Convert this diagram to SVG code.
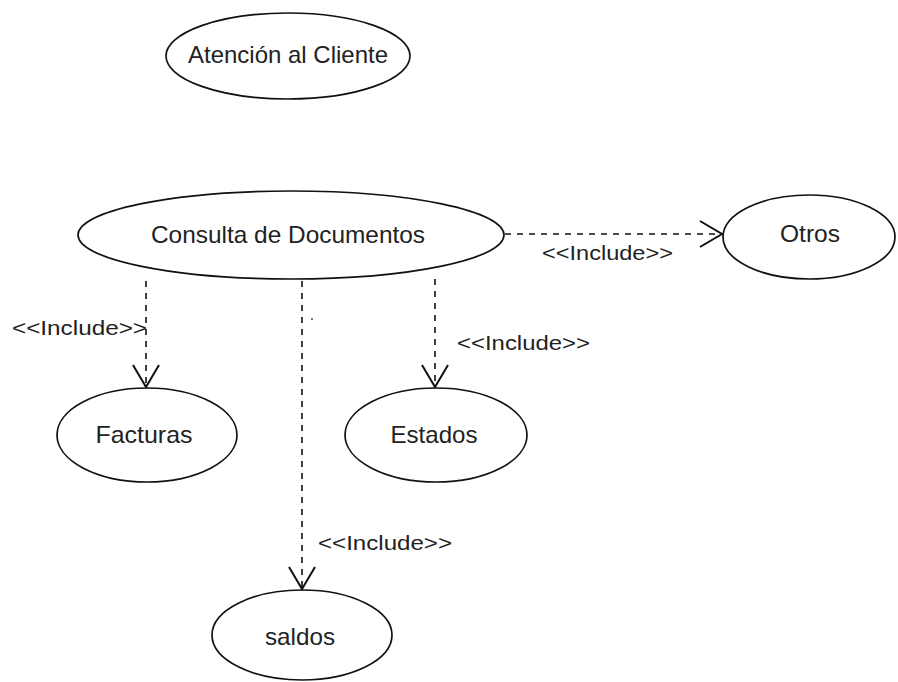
<svg xmlns="http://www.w3.org/2000/svg" width="898" height="682" viewBox="0 0 898 682">
<style>
.uc{fill:#fff;stroke:#111;stroke-width:1.7}
.t{font-family:"Liberation Sans",Arial,sans-serif;font-size:24px;fill:#222;text-anchor:middle}
.lbl{font-family:"Liberation Sans",Arial,sans-serif;font-size:21px;fill:#222}
.dep{fill:none;stroke:#111;stroke-width:1.6;stroke-dasharray:6,6}
</style>
<defs>
<marker id="open" markerUnits="userSpaceOnUse" markerWidth="26" markerHeight="30" refX="23" refY="14" orient="auto">
<path d="M1,1 L23,14 L1,27" fill="none" stroke="#111" stroke-width="2"/>
</marker>
</defs>
<g id="atencion">
<ellipse class="uc" cx="288" cy="56" rx="122" ry="43"/>
<text class="t" x="288" y="63" textLength="200" lengthAdjust="spacingAndGlyphs">Atención al Cliente</text>
</g>
<g id="consulta">
<ellipse class="uc" cx="291" cy="235" rx="213" ry="44"/>
<text class="t" x="288" y="243" textLength="274" lengthAdjust="spacingAndGlyphs">Consulta de Documentos</text>
</g>
<g id="otros">
<ellipse class="uc" cx="809" cy="237" rx="86" ry="42"/>
<text class="t" x="810" y="242" textLength="60" lengthAdjust="spacingAndGlyphs">Otros</text>
</g>
<g id="facturas">
<ellipse class="uc" cx="147" cy="435" rx="90" ry="47"/>
<text class="t" x="144" y="443" textLength="97" lengthAdjust="spacingAndGlyphs">Facturas</text>
</g>
<g id="estados">
<ellipse class="uc" cx="436" cy="435" rx="91" ry="47"/>
<text class="t" x="434" y="443" textLength="87" lengthAdjust="spacingAndGlyphs">Estados</text>
</g>
<g id="saldos">
<ellipse class="uc" cx="302" cy="635" rx="90" ry="45"/>
<text class="t" x="300" y="645" textLength="70" lengthAdjust="spacingAndGlyphs">saldos</text>
</g>
<g id="connectors">
<line class="dep" x1="505" y1="234" x2="722" y2="234" marker-end="url(#open)"/>
<line class="dep" x1="146" y1="281" x2="146" y2="387" marker-end="url(#open)"/>
<line class="dep" x1="435" y1="279" x2="435" y2="387" marker-end="url(#open)"/>
<line class="dep" x1="302" y1="281" x2="302" y2="589" marker-end="url(#open)"/>
<circle cx="312" cy="319" r="0.9" fill="#333"/>
<text class="lbl" x="542" y="260" textLength="131" lengthAdjust="spacingAndGlyphs">&lt;&lt;Include&gt;&gt;</text>
<text class="lbl" x="12" y="335" textLength="135" lengthAdjust="spacingAndGlyphs">&lt;&lt;Include&gt;&gt;</text>
<text class="lbl" x="457" y="350" textLength="133" lengthAdjust="spacingAndGlyphs">&lt;&lt;Include&gt;&gt;</text>
<text class="lbl" x="318" y="550" textLength="134" lengthAdjust="spacingAndGlyphs">&lt;&lt;Include&gt;&gt;</text>
</g>
</svg>
